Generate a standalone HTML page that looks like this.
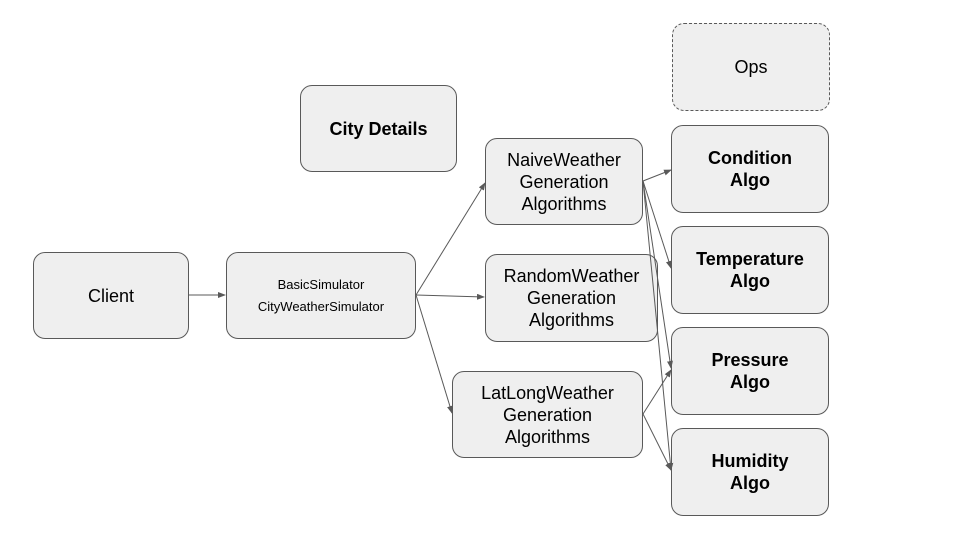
<!DOCTYPE html>
<html><head><style>
body{margin:0;width:960px;height:540px;background:#fff;position:relative;overflow:hidden;font-family:"Liberation Sans",sans-serif;}
.b{position:absolute;box-sizing:border-box;background:#efefef;border:1px solid #595959;border-radius:12px;display:flex;align-items:center;justify-content:center;text-align:center;color:#000;font-size:18px;line-height:22px;}
.bd{font-weight:bold;}
svg{position:absolute;left:0;top:0;}
</style></head><body>
<div class="b" style="left:672px;top:23px;width:158px;height:88px;border:1px dashed #595959;">Ops</div>
<div class="b bd" style="left:300px;top:85px;width:157px;height:87px;">City Details</div>
<div class="b" style="left:485px;top:138px;width:158px;height:87px;">NaiveWeather<br>Generation<br>Algorithms</div>
<div class="b" style="left:485px;top:254px;width:173px;height:88px;">RandomWeather<br>Generation<br>Algorithms</div>
<div class="b" style="left:452px;top:371px;width:191px;height:87px;">LatLongWeather<br>Generation<br>Algorithms</div>
<div class="b" style="left:33px;top:252px;width:156px;height:87px;">Client</div>
<div class="b" style="left:226px;top:252px;width:190px;height:87px;font-size:13px;line-height:22px;">BasicSimulator<br>CityWeatherSimulator</div>
<div class="b bd" style="left:671px;top:125px;width:158px;height:88px;">Condition<br>Algo</div>
<div class="b bd" style="left:671px;top:226px;width:158px;height:88px;">Temperature<br>Algo</div>
<div class="b bd" style="left:671px;top:327px;width:158px;height:88px;">Pressure<br>Algo</div>
<div class="b bd" style="left:671px;top:428px;width:158px;height:88px;">Humidity<br>Algo</div>
<svg width="960" height="540">
<defs><marker id="a" markerWidth="8" markerHeight="6" refX="7" refY="3" orient="auto" markerUnits="userSpaceOnUse"><path d="M0,0L8,3L0,6z" fill="#595959"/></marker></defs>
<g stroke="#595959" stroke-width="1" fill="none" marker-end="url(#a)">
<line x1="189" y1="295" x2="225" y2="295"/>
<line x1="416" y1="295" x2="485" y2="183"/>
<line x1="416" y1="295" x2="484" y2="297"/>
<line x1="416" y1="295" x2="452" y2="413"/>
<line x1="643" y1="181" x2="671" y2="170"/>
<line x1="643" y1="181" x2="671" y2="268"/>
<line x1="643" y1="181" x2="671" y2="368"/>
<line x1="643" y1="181" x2="671" y2="470"/>
<line x1="643" y1="414" x2="671" y2="370"/>
<line x1="643" y1="414" x2="671" y2="470"/>
</g></svg>
</body></html>
